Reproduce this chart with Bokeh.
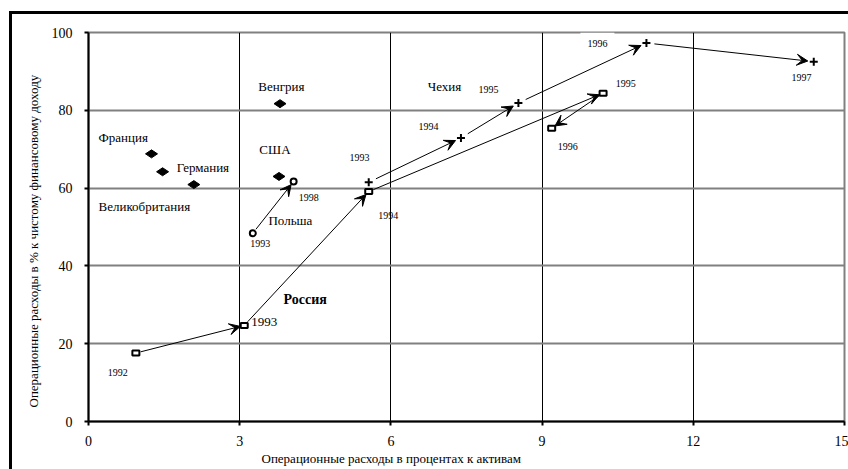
import math
from bokeh.plotting import figure
from bokeh.models import (Range1d, FixedTicker, Label, Arrow, VeeHead,
                          ColumnDataSource, Title)
from bokeh.embed import file_html
from bokeh.resources import INLINE

# ---------------- data ----------------
x_ticks = [0, 3, 6, 9, 12, 15]
y_ticks = [0, 20, 40, 60, 80, 100]

country_names = ["Франция", "Германия", "Великобритания", "Венгрия", "США"]
country_x = [1.25, 1.47, 2.09, 3.80, 3.78]
country_y = [68.8, 64.2, 60.9, 81.7, 63.0]

russia_years = ["1992", "1993", "1994", "1995", "1996"]
russia_x = [0.94, 3.09, 5.56, 10.21, 9.19]
russia_y = [17.6, 24.7, 59.1, 84.4, 75.4]

czech_years = ["1993", "1994", "1995", "1996", "1997"]
czech_x = [5.56, 7.39, 8.53, 11.07, 14.39]
czech_y = [61.5, 72.9, 81.9, 97.3, 92.5]

poland_years = ["1993", "1998"]
poland_x = [3.26, 4.07]
poland_y = [48.4, 61.7]

x_title = "Операционные расходы в процентах к активам"
y_title = "Операционные расходы в % к чистому финансовому доходу"

# ---------------- layout ----------------
FONT = "Liberation Serif"
W, H = 848, 469
ML, MR, MT, MB = 88, 4, 32, 48
PX = (W - ML - MR) / 15.0     # px per x unit
PY = (H - MT - MB) / 100.0    # px per y unit

p = figure(width=W, height=H, x_range=Range1d(0, 15), y_range=Range1d(0, 100),
           output_backend="svg", toolbar_location=None,
           min_border_left=ML, min_border_right=MR,
           min_border_top=MT, min_border_bottom=MB)
p.border_fill_color = None
p.background_fill_color = "white"
p.styles = {
    "background": "linear-gradient(#000,#000) 9px 11px / 3px 100% no-repeat, "
                  "linear-gradient(#000,#000) 9px 11px / 100% 3px no-repeat, white"
}
p.outline_line_color = "#808080"
p.outline_line_width = 2

p.xaxis.ticker = FixedTicker(ticks=x_ticks)
p.yaxis.ticker = FixedTicker(ticks=y_ticks)
for ax in (p.xaxis, p.yaxis):
    ax.axis_line_color = "black"
    ax.axis_line_width = 2
    ax.major_tick_line_color = "black"
    ax.major_tick_line_width = 2
    ax.major_tick_in = 0
    ax.major_tick_out = 4
    ax.minor_tick_line_color = None
    ax.major_label_text_font = FONT
    ax.major_label_text_font_size = "14px"
    ax.major_label_text_color = "black"
p.xaxis.major_label_standoff = 10
p.yaxis.major_label_standoff = 12

p.add_layout(Title(text=y_title, align="left", offset=14, standoff=15,
                   text_font=FONT, text_font_size="13px",
                   text_font_style="normal", text_color="black"), "left")

p.add_layout(Title(text=x_title, align="left", offset=173, standoff=0,
                   text_font=FONT, text_font_size="13px",
                   text_font_style="normal", text_color="black"), "below")

p.xgrid.grid_line_color = "black"
p.xgrid.grid_line_width = 1
p.ygrid.grid_line_color = "#808080"
p.ygrid.grid_line_width = 2


def shorten(xs, ys, g0=6, g1=6):
    x0, y0, x1, y1 = [], [], [], []
    for i in range(len(xs) - 1):
        dxp = (xs[i + 1] - xs[i]) * PX
        dyp = (ys[i + 1] - ys[i]) * PY
        L = math.hypot(dxp, dyp)
        ux, uy = dxp / L, dyp / L
        x0.append(xs[i] + ux * g0 / PX)
        y0.append(ys[i] + uy * g0 / PY)
        x1.append(xs[i + 1] - ux * g1 / PX)
        y1.append(ys[i + 1] - uy * g1 / PY)
    return dict(x0=x0, y0=y0, x1=x1, y1=y1)


def arrows(xs, ys, g0=6, g1=6):
    src = ColumnDataSource(shorten(xs, ys, g0, g1))
    p.add_layout(Arrow(end=VeeHead(size=11, fill_color="black", line_color="black",
                                   line_width=1),
                       x_start="x0", y_start="y0", x_end="x1", y_end="y1",
                       source=src, line_color="black", line_width=1))


arrows(russia_x, russia_y, 5, 4)
arrows(czech_x, czech_y, 8, 6)
arrows(poland_x, poland_y, 5, 4)

# markers
p.scatter(country_x, country_y, marker="diamond", size=12, angle=math.pi / 2,
          fill_color="black", line_color="black")
p.rect(russia_x, russia_y, width=7, height=5, width_units="screen",
       height_units="screen", fill_color="white", line_color="black", line_width=2)
p.scatter(poland_x, poland_y, marker="circle", size=6, fill_color="white",
          line_color="black", line_width=2)
p.scatter(czech_x, czech_y, marker="cross", size=8, line_color="black", line_width=2)


def lab(x, y, text, size="10px", align="left", style="normal", bg=None, pad=0):
    p.add_layout(Label(x=x, y=y, text=text, text_font=FONT, text_font_size=size,
                       text_align=align, text_baseline="middle",
                       text_font_style=style, text_color="black",
                       background_fill_color=bg, padding=pad))


# country labels (anchor positions, layout only)
country_lx = [0.20, 1.75, 0.20, 3.37, 3.39]
country_ly = [73.0, 65.3, 55.3, 86.1, 69.9]
for n, lx, ly in zip(country_names, country_lx, country_ly):
    lab(lx, ly, n, "13px")

lab(3.57, 51.7, "Польша", "13px")
lab(6.73, 86.1, "Чехия", "13px")
lab(3.87, 31.4, "Россия", "14px", style="bold")

russia_lx = [0.38, 3.23, 5.75, 10.46, 9.31]
russia_ly = [12.7, 25.5, 53.0, 86.9, 70.7]
russia_ls = ["10px", "13px", "10px", "10px", "10px"]
for t, lx, ly, s in zip(russia_years, russia_lx, russia_ly, russia_ls):
    lab(lx, ly, t, s)

czech_lx = [5.18, 6.55, 7.74, 9.76, 13.95]
czech_ly = [67.9, 75.8, 85.3, 97.3, 88.5]
for i, (t, lx, ly) in enumerate(zip(czech_years, czech_lx, czech_ly)):
    if i == 3:
        lab(lx, ly, t, bg="white", pad=7)
    else:
        lab(lx, ly, t)

poland_lx = [3.21, 4.17]
poland_ly = [45.8, 57.6]
for t, lx, ly in zip(poland_years, poland_lx, poland_ly):
    lab(lx, ly, t)

open("out.html", "w").write(file_html(p, INLINE))
